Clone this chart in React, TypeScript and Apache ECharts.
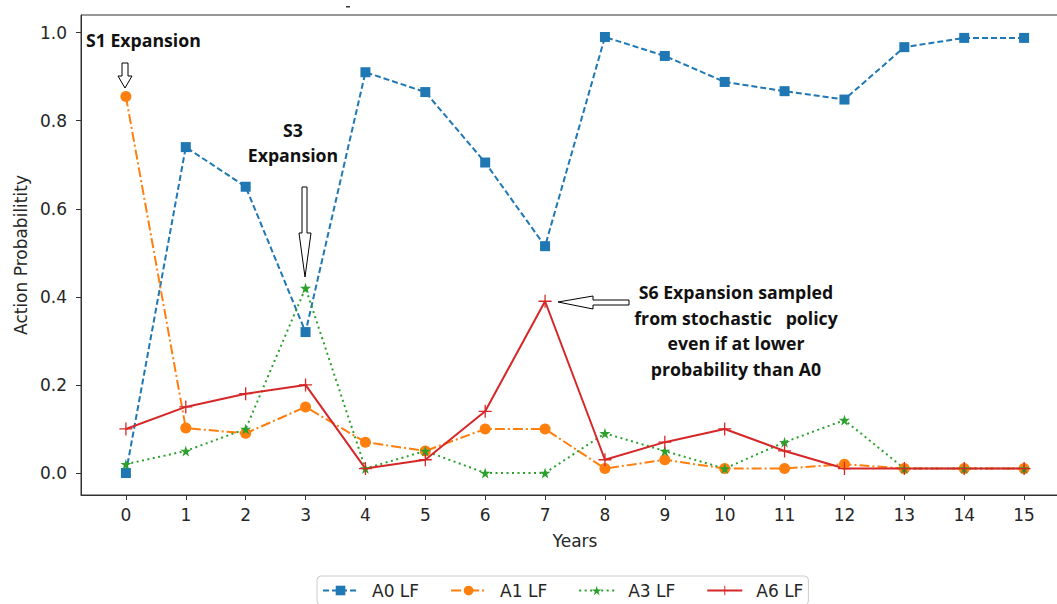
import React, { useEffect, useRef } from "react";
import * as echarts from "echarts";

const years = [0, 1, 2, 3, 4, 5, 6, 7, 8, 9, 10, 11, 12, 13, 14, 15];
const yTicks = [0, 0.2, 0.4, 0.6, 0.8, 1.0];
const a0 = [0.0, 0.74, 0.65, 0.32, 0.91, 0.865, 0.705, 0.515, 0.99, 0.947, 0.888, 0.867, 0.848, 0.967, 0.988, 0.988];
const a1 = [0.855, 0.102, 0.09, 0.15, 0.07, 0.05, 0.1, 0.1, 0.01, 0.03, 0.01, 0.01, 0.02, 0.01, 0.01, 0.01];
const a3 = [0.02, 0.05, 0.1, 0.42, 0.01, 0.05, 0.0, 0.0, 0.09, 0.05, 0.01, 0.07, 0.12, 0.01, 0.01, 0.01];
const a6 = [0.1, 0.15, 0.18, 0.2, 0.01, 0.03, 0.14, 0.39, 0.03, 0.07, 0.1, 0.05, 0.01, 0.01, 0.01, 0.01];
const seriesNames = ["A0 LF", "A1 LF", "A3 LF", "A6 LF"];

const STAR = "path://M50,0 L61,35 L98,35 L68,57 L79,91 L50,70 L21,91 L32,57 L2,35 L39,35 Z";
const PLUS = "path://M45,0 L55,0 L55,45 L100,45 L100,55 L55,55 L55,100 L45,100 L45,55 L0,55 L0,45 L45,45 Z";

const ANN_FONT = "Open Sans";

export default function App() {
  const ref = useRef<HTMLDivElement>(null);
  useEffect(() => {
    if (!ref.current) return;
    const chart = echarts.init(ref.current, null, { renderer: "svg" });
    const mk = (ys: number[]) => years.map((x, i) => [x, ys[i]]);
    const textStyle = { fontFamily: "DejaVu Sans", fontSize: 17, color: "#262626" };
    const arrowStyle = { fill: "#fff", stroke: "#000", lineWidth: 1 };
    const annStyle = (text: string, x: number, y: number, align: string) => ({
      type: "text",
      x,
      y,
      style: {
        text,
        fontFamily: ANN_FONT,
        fontWeight: "bold",
        fontSize: 17.7,
        lineHeight: 25.5,
        fill: "#111",
        align,
        verticalAlign: "top",
      },
    });
    chart.setOption({
      animation: false,
      backgroundColor: "#fff",
      grid: {
        left: 81,
        top: 15,
        width: 988,
        height: 480,
        show: true,
        borderColor: "#333",
        borderWidth: 1,
        backgroundColor: "transparent",
        outerBoundsMode: "none",
        containLabel: false,
      },
      xAxis: {
        type: "value",
        min: -0.75,
        max: 15.75,
        name: "Years",
        nameLocation: "middle",
        nameGap: 37,
        nameTextStyle: textStyle,
        axisLine: { show: true, onZero: false, lineStyle: { color: "#333", width: 1 } },
        axisTick: { show: true, length: 5, lineStyle: { color: "#333" }, customValues: years },
        axisLabel: { ...textStyle, margin: 11, customValues: years },
        splitLine: { show: false },
      },
      yAxis: {
        type: "value",
        min: -0.05,
        max: 1.04,
        name: "Action Probabilitity",
        nameLocation: "middle",
        nameGap: 52,
        nameRotate: 90,
        nameTextStyle: textStyle,
        axisLine: { show: true, onZero: false, lineStyle: { color: "#333", width: 1 } },
        axisTick: { show: true, length: 5, lineStyle: { color: "#333" }, customValues: yTicks },
        axisLabel: {
          ...textStyle,
          margin: 14,
          customValues: yTicks,
          formatter: (v: number) => v.toFixed(1),
        },
        splitLine: { show: false },
      },
      legend: {
        left: 317,
        top: 576,
        orient: "horizontal",
        data: seriesNames,
        itemWidth: 35,
        itemHeight: 12,
        itemGap: 31,
        borderColor: "#ccc",
        borderWidth: 1,
        borderRadius: 4,
        padding: [6, 5, 6, 5],
        textStyle: { fontFamily: "DejaVu Sans", fontSize: 17, color: "#262626", padding: [0, 0, 0, 9] },
      },
      series: [
        {
          name: seriesNames[0],
          type: "line",
          data: mk(a0),
          symbol: "rect",
          symbolSize: 10,
          itemStyle: { color: "#1f77b4" },
          lineStyle: { color: "#1f77b4", width: 2, type: [6, 3] },
        },
        {
          name: seriesNames[1],
          type: "line",
          data: mk(a1),
          symbol: "circle",
          symbolSize: 11,
          itemStyle: { color: "#ff7f0e" },
          lineStyle: { color: "#ff7f0e", width: 2, type: [10, 3, 2, 3] },
        },
        {
          name: seriesNames[2],
          type: "line",
          data: mk(a3),
          symbol: STAR,
          symbolSize: 11,
          itemStyle: { color: "#2ca02c" },
          lineStyle: { color: "#2ca02c", width: 2, type: [2, 3.5] },
        },
        {
          name: seriesNames[3],
          type: "line",
          data: mk(a6),
          symbol: PLUS,
          symbolSize: 13,
          itemStyle: { color: "#d62728" },
          lineStyle: { color: "#d62728", width: 2, type: "solid" },
        },
      ],
      graphic: [
        { type: "rect", shape: { x: 346, y: 6, width: 4, height: 1.5 }, style: { fill: "#333" } },
        annStyle("S1 Expansion", 86, 27.5, "left"),
        {
          type: "polygon",
          shape: { points: [[122, 63], [128, 63], [128, 76], [132, 76], [125, 88], [118, 76], [122, 76]] },
          style: arrowStyle,
        },
        annStyle("S3\nExpansion", 293, 117, "center"),
        {
          type: "polygon",
          shape: { points: [[302, 187], [307, 187], [307, 233], [311, 233], [305, 277], [299, 233], [302, 233]] },
          style: arrowStyle,
        },
        annStyle(
          "S6 Expansion sampled\nfrom stochastic   policy\neven if at lower\nprobability than A0",
          736,
          279.5,
          "center"
        ),
        {
          type: "polygon",
          shape: { points: [[629, 300], [629, 305], [593, 305], [593, 309], [558, 302], [593, 296], [593, 300]] },
          style: arrowStyle,
        },
      ],
    });
    return () => chart.dispose();
  }, []);
  return (
    <div
      ref={ref}
      style={{ position: "fixed", left: 0, top: 0, width: 1057, height: 604, background: "#fff" }}
    />
  );
}
